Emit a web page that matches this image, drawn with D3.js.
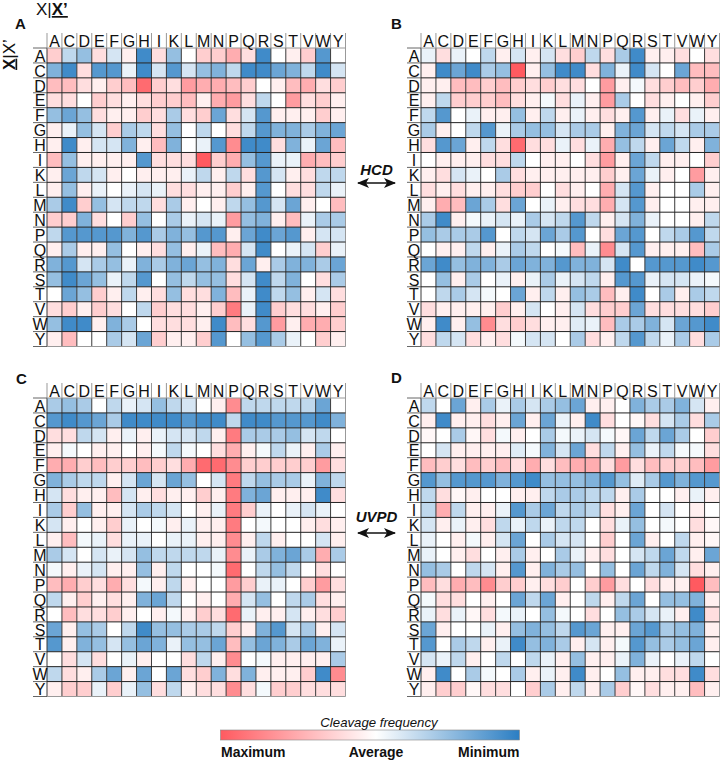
<!DOCTYPE html>
<html><head><meta charset="utf-8">
<script src="https://cdn.jsdelivr.net/npm/d3@7"></script>
<style>html,body{margin:0;padding:0;background:#fff}svg{display:block}text{font-family:"Liberation Sans",Arial,sans-serif;fill:#111}</style>
</head><body><svg id="c" width="720" height="762"></svg>
<script>
const residues = ["A","C","D","E","F","G","H","I","K","L","M","N","P","Q","R","S","T","V","W","Y"];
// values: +10 = maximum cleavage frequency, 0 = average, -10 = minimum
const panelA = [
[3,-3,-5,2,-2,1,-9,2,-5,0,3,3,5,2,-9,0,1,3,-8,0],
[-6,-9,2,-8,-8,-1,-9,-2,-8,-2,-5,-6,-3,-9,-9,-7,-6,-3,-9,-2],
[4,4,2,1,3,4,9,3,2,6,5,5,4,3,0,1,4,5,2,3],
[2,2,0,3,2,1,2,3,3,4,1,5,6,2,-3,0,6,2,3,1],
[-5,-7,-5,2,1,1,3,2,-4,2,3,-7,2,-2,-8,1,1,1,3,1],
[1,-1,-5,-2,3,-4,-3,2,-5,0,-3,0,2,-3,-8,-6,-6,-4,-6,-7],
[1,-9,1,-2,-2,-6,1,4,-6,0,-1,-8,7,-9,-9,2,-6,-1,-7,4],
[4,-5,1,1,1,1,-8,2,2,2,10,3,5,-5,-8,-1,-1,5,4,3],
[1,-7,-3,-2,1,0,1,1,1,-1,-3,1,-3,2,-8,-2,1,2,-3,-3],
[1,-5,1,-1,0,-1,-2,-1,2,2,1,1,3,1,-8,0,2,2,-3,-1],
[-4,-9,3,-5,-2,-3,-3,2,-4,1,0,1,-3,-5,-8,-2,-7,1,0,4],
[3,3,-6,2,0,3,-5,0,-4,-1,-2,-1,6,-5,-6,1,4,-1,-4,-4],
[-3,-8,-8,-8,-8,-6,-8,-4,-6,-5,-8,-8,1,-7,-9,-7,-8,1,-2,-2],
[1,-4,1,1,-5,0,1,2,-5,1,-1,4,5,-2,-9,0,-1,-2,3,-1],
[-6,-8,-2,-4,-5,-1,-6,-4,-6,-7,-5,-6,2,-7,1,-4,-6,-6,-4,-7],
[-5,-9,-7,-5,-1,-3,-8,0,-5,-3,-5,-5,2,-2,-9,-3,-6,0,2,-4],
[0,-7,-5,3,1,-3,1,2,-5,2,2,-6,4,-1,-9,-3,-5,1,-2,2],
[2,3,1,3,2,0,-3,3,2,2,1,3,8,-1,-9,3,2,2,1,3],
[-5,-9,-9,1,-6,-4,0,2,2,2,1,-9,4,2,-8,6,1,5,5,3],
[1,4,0,0,-4,-2,-7,3,1,1,3,-8,0,-5,-8,-4,-1,0,3,1]];
const panelB = [
[-1,2,-1,0,-3,1,-2,1,-2,2,3,-3,2,-4,-9,1,1,2,0,2],
[1,-9,-7,-9,-4,-5,10,1,-5,-9,-9,2,-6,-1,-9,-2,0,-7,4,4],
[1,1,4,4,3,4,3,2,3,2,2,0,6,1,-0.5,2,3,4,3,5],
[1,-3,3,3,3,4,2,1,-0.5,2,-1,1,6,-4,0,2,1,0,1,3],
[-3,-8,0,-1,1,1,-5,1,-3,1,-1,1,2,1,-8,1,-1,2,-1,1],
[-4,1,0,-3,-8,-1,-4,-5,-5,-2,-4,-4,1,-6,-7,-2,-3,-2,-4,-4],
[2,-8,-7,1,-3,2,9,2,2,-1,2,-1,5,-5,-3,1,-7,-3,1,-6],
[0,1,1,1,2,2,-3,0,1,1,0,2,6,1,-7,-3,1,1,0,3],
[1,2,-2,-1,0,-4,2,1,1,1,1,1,3,1,-7,-1,1,0,6,1],
[2,1,2,1,1,2,3,3,0,2,1,0,5,-2,-8,1,0,0,-4,1],
[1,5,4,-7,-4,2,-7,0,-1,1,2,2,5,-2,-8,1,0,0,1,1],
[-4,-9,1,-0.5,-1,-2,-1,-4,-2,-3,-8,-3,1,-2,-6,-1,0,0,1,-3],
[-5,-4,-4,-4,-8,0,-3,-2,-7,-4,-8,0,2,-7,-8,0,-3,-4,-8,-3],
[0,1,1,-3,1,-1,-4,-3,0,-0.5,4,-1,7,-2,-8,1,1,1,4,-4],
[-7,-9,-5,-6,-6,-4,-7,-6,-6,-8,-6,-6,-2,-9,0,-8,-8,-8,-9,-8],
[0,-5,1,-4,0,-1,1,-1,-4,-1,-2,-3,1,-8,-8,-1,-2,-2,-1,-0.5],
[0,-3,-4,-2,-0.5,0,-7,1,-3,1,-5,-4,4,1,-9,0,-4,1,-4,-3],
[2,1,1,1,1,3,1,-2,0,1,-2,2,3,3,-7,2,2,2,2,3],
[1,-9,1,-5,7,2,3,2,1,1,-1.5,-1,4,-4,-4,-6,-2,-7,-8,-9],
[2,-3,-2,2,1,2,-0.5,-2,-2,0,-4,2,1,-3,-8,-3,-1,-4,2,-4]];
const panelC = [
[-4,-5,-4,0,-3,-1,-2,-5,-3,-2,0,1,7,-3,-3,-3,-3,-3,-7,0],
[-8,-9,-8,-7,-4,-9,-9,-9,-9,-8,-9,-9,-3,-9,-9,-8,-8,-8,-9,-6],
[2,2,-3,-2,1,-1,1,-1,-2,-2,-3,1,8,-4,-4,-4,-5,-2,-3,0],
[1,-0.5,0,1,1,0,1,-0.5,-3,-0.5,0,2,5,1,-0.5,-3,-1,1,-4,1],
[5,5,3,4,3,3,4,3,2,5,9,9,7,3,3,3,3,3,6,2],
[-6,-4,-3,-3,1,-2,-7,-2,-7,-5,0,-2,8,-3,-5,-4,-4,-1,-6,-3],
[-2,2,1,1,4,-2,1,2,1,1,3,1,8,-6,-7,1,1,1,-9,2],
[-4,3,-5,1,1,-2,-4,-3,-2,0,1,-1,8,3,-1,0,-1,-2,-1,0],
[-2,1,0,1,3,-1,0,-0.5,1,-1,1,1,8,0,-0.5,0,0,1,2,1],
[1,4,-0.5,-1,2,-1,-1,0,-1,-1,1,1,7,1,-3,1,0,0,-2,1],
[-4,-2,0,-2,-1,-2,-5,-3,-3,-3,-3,-1,7,-1,-4,-6,-7,-4,5,-4],
[-0.5,1,-1,-2,1,1,-5,1,-3,0,0,-0.5,9,0,-3,-5,-3,0,2,0],
[4,5,3,2,5,2,-0.5,1,-3,1,0,0,6,3,-1,-1,0,3,6,2],
[-3,1,3,1,2,1,-6,-7,-3,0,1,0,5,-2,-5,0,-3,-4,2,1],
[0,4,2,2,3,1,0,1,-0.5,1,3,2,9,-1,1,1,-2,1,2,3],
[-7,1,-5,-4,0,-3,-9,-5,-5,-4,-4,-3,3,1,-6,-8,-2,-4,1,-2],
[-8,1,-6,-5,-2,-5,-7,-6,-1,-5,-5,-7,4,-5,-7,-6,-4,-7,-6,-1],
[0,2,-2,2,0,-1,1,0,0,2,-3,1,7,0,-0.5,1,1,1,1,-4],
[-3,2,1,-4,-7,1,-7,0,-7,2,3,-6,2,-6,1,1,1,3,-9,7],
[1,3,3,-1,3,-1,-5,2,-3,1,2,2,7,2,-0.5,3,3,2,2,2]];
const panelD = [
[-3,0,-7,1,-4,-1,-4,-2,-4,-5,-7,1,1,0,-6,-4,-4,-6,-2,1],
[1,-9,1,1,2,1,-7,1,-7,-1,1,-9,2,0,0.5,2,-2,-4,2,-4],
[0.5,0,-4,0.5,2,-0.5,1,0,-4,-0.5,-1,-2,-0.5,0.5,-7,-3,-7,-4,0,3],
[0,-2,1,1,1,1,-1.5,-0.5,-6,-2,-7,2,-3,1,-5,-1,-3,-0.5,-0.5,2],
[4,3,2,4,3,4,2,5,2,4,5,5,2,6,2,4,3,3,4,6],
[-8,-5,-8,-8,-8,-6,-8,-9,-5,-5,-5,-6,-8,-5,-1.5,-4,-8,-6,-8,-8],
[-3,2,0.5,1,0,0,1,1,-3,-4,-4,-3,-3,1,-4,0,0,1,-1,1],
[-3,5,-3,1,1,-1,-8,-4,-7,-3,-4,-3,2,1,-7,0,-2,0,1,0],
[-2,1,-1,1,2,-3,-1,-3,-1,-3,-3,0,2,-1,-5,0,-0.5,0,2,0.5],
[-1,0,1,-0.5,1,-2,-7,0,-4,-2,-2,0,3,0,-7,1,0,-3,1,0.5],
[-1,0,1,2,0,1,-4,1,0,-4,-1,1,2,0,-2,-3,-7,-3,1,-7],
[-5,-4,0,-3,-2,1,-8,1,-6,-4,-5,0,-5,0,-7,-3,-6,-2,2,1],
[4,2,5,4,7,3,3,1,2,3,0,3,6,2,0,2,1,1,10,4],
[-0.5,2,2,0,1,0,-7,-3,-7,1,0,-3,1,-3,-7,0,-5,-5,-6,1],
[-1,2,-1,0.5,2,-0.5,-1,0,-5,-0.5,0,2,0,-5,-4,-2,-1,1,-9,2],
[-7,1,0,0,-1,1,-5,-6,-5,-3,-8,-7,1,1,-7,-8,-4,-5,-6,1],
[-8,0,-4,-3,1,-1,-9,-5,-6,-4,1,-2,1,-0.5,-8,-5,-4,-5,-7,1],
[-2,-1,-3,1,0,-3,0,-3,-1,1,-5,1,1,-1,-6,-1,0,-1,-3,0],
[1,-9,0,-4,-0.5,0,-4,1,-1,1,-9,1,0,-5,1,1,2,2,-9,2],
[1,3,3,0.5,2,2,0,3,-4,1,-3,1,-4,3,0.5,2,1,1,4,1]];
const panelLetters = ["A","B","C","D"];
const methods = ["HCD","UVPD"];
const legendStops = [10,0,-10];
const legendLabels = ["Maximum","Average","Minimum"];

const svg = d3.select("#c");
const color = d3.scaleLinear().domain(legendStops).range(["#ff5a60","#ffffff","#2b7ec3"]);
const fontStack = '"Liberation Sans",Arial,sans-serif';

function panel(data, x0, y0, letter, lx, ly){
  const size = 298.5;
  const x = d3.scaleBand().domain(residues).range([x0, x0+size]);
  const y = d3.scaleBand().domain(residues).range([y0, y0+size]);
  const g = svg.append("g");
  residues.forEach((r,i)=>{
    g.selectAll(null).data(data[i]).join("rect")
      .attr("x",(d,j)=>x(residues[j])).attr("y",y(r))
      .attr("width",x.bandwidth()).attr("height",y.bandwidth())
      .attr("fill",d=>color(d));
  });
  const edges = d3.range(21);
  const step = x.step();
  // header and row-label gridlines
  g.selectAll(null).data(edges).join("line")
    .attr("x1",d=>x0+d*step).attr("x2",d=>x0+d*step)
    .attr("y1",y0-15).attr("y2",y0).attr("stroke","#999");
  g.selectAll(null).data(edges).join("line")
    .attr("x1",x0-14).attr("x2",x0)
    .attr("y1",d=>y0+d*step).attr("y2",d=>y0+d*step).attr("stroke","#666");
  // grid inside the heat map: the outer top, bottom and right edges are grey
  g.selectAll(null).data(edges).join("line")
    .attr("x1",d=>x0+d*step).attr("x2",d=>x0+d*step)
    .attr("y1",y0).attr("y2",y0+size).attr("stroke",d=>d===20?"#999":"#3a3a3a");
  g.selectAll(null).data(edges).join("line")
    .attr("x1",x0).attr("x2",x0+size)
    .attr("y1",d=>y0+d*step).attr("y2",d=>y0+d*step).attr("stroke",d=>(d===0||d===20)?"#999":"#222");
  const top = svg.append("g").attr("transform",`translate(0,${y0})`).call(d3.axisTop(x).tickSize(0).tickPadding(1.5));
  top.select(".domain").remove();
  top.selectAll("text").attr("font-size",16).attr("fill","#111").style("font-family",fontStack);
  const left = svg.append("g").attr("transform",`translate(${x0-7},0)`).call(d3.axisLeft(y).tickSize(0).tickPadding(0));
  left.select(".domain").remove();
  left.selectAll("text").attr("font-size",16).attr("fill","#111").attr("text-anchor","middle").attr("x",0).attr("dy",0).attr("y",6.2).style("font-family",fontStack);
  svg.append("text").attr("x",lx).attr("y",ly).attr("font-size",15).attr("font-weight","bold").text(letter);
}
panel(panelA,47,48,panelLetters[0],15,29);
panel(panelB,421,48,panelLetters[1],391,29);
panel(panelC,47,398,panelLetters[2],16,384);
panel(panelD,421,398,panelLetters[3],391,383);

// axis titles
const t1 = svg.append("text").attr("x",36).attr("y",15).attr("font-size",17);
t1.append("tspan").text("X|");
t1.append("tspan").attr("font-weight","bold").attr("text-decoration","underline").text("X’");
const t2 = svg.append("text").attr("transform","translate(14.5,70) rotate(-90)").attr("font-size",17);
t2.append("tspan").attr("font-weight","bold").attr("text-decoration","underline").text("X");
t2.append("tspan").text("|X’");

// method labels and arrows
const defs = svg.append("defs");
defs.append("marker").attr("id","ah").attr("viewBox","0 0 12 10").attr("refX",11).attr("refY",5)
  .attr("markerWidth",12).attr("markerHeight",10).attr("markerUnits","userSpaceOnUse").attr("orient","auto-start-reverse")
  .append("path").attr("d","M0,0L12,5L0,10L3,5Z").attr("fill","#111");
[[methods[0],376.5,175,183],[methods[1],376.5,522,533]].forEach(([m,cx,ty,ay])=>{
  svg.append("text").attr("x",cx).attr("y",ty).attr("text-anchor","middle").attr("font-size",15)
    .attr("font-weight","bold").attr("font-style","italic").text(m);
  svg.append("line").attr("x1",cx-18.5).attr("x2",cx+18.5).attr("y1",ay).attr("y2",ay)
    .attr("stroke","#111").attr("stroke-width",1.5)
    .attr("marker-start","url(#ah)").attr("marker-end","url(#ah)");
});

// legend
const lg = defs.append("linearGradient").attr("id","lg");
lg.selectAll("stop").data(legendStops).join("stop")
  .attr("offset",(d,i)=>i===1?"0.52":i/2).attr("stop-color",d=>color(d));
svg.append("rect").attr("x",220.5).attr("y",730).attr("width",299).attr("height",10)
  .attr("fill","url(#lg)").attr("stroke","#888").attr("stroke-width",0.6);
svg.append("text").attr("x",379).attr("y",727).attr("text-anchor","middle").attr("font-size",13.2)
  .attr("font-style","italic").text("Cleavage frequency");
[[legendLabels[0],221,"start"],[legendLabels[1],376,"middle"],[legendLabels[2],519.5,"end"]].forEach(([s,x,a])=>{
  svg.append("text").attr("x",x).attr("y",757).attr("text-anchor",a).attr("font-size",14)
    .attr("font-weight","bold").text(s);
});
</script></body></html>
